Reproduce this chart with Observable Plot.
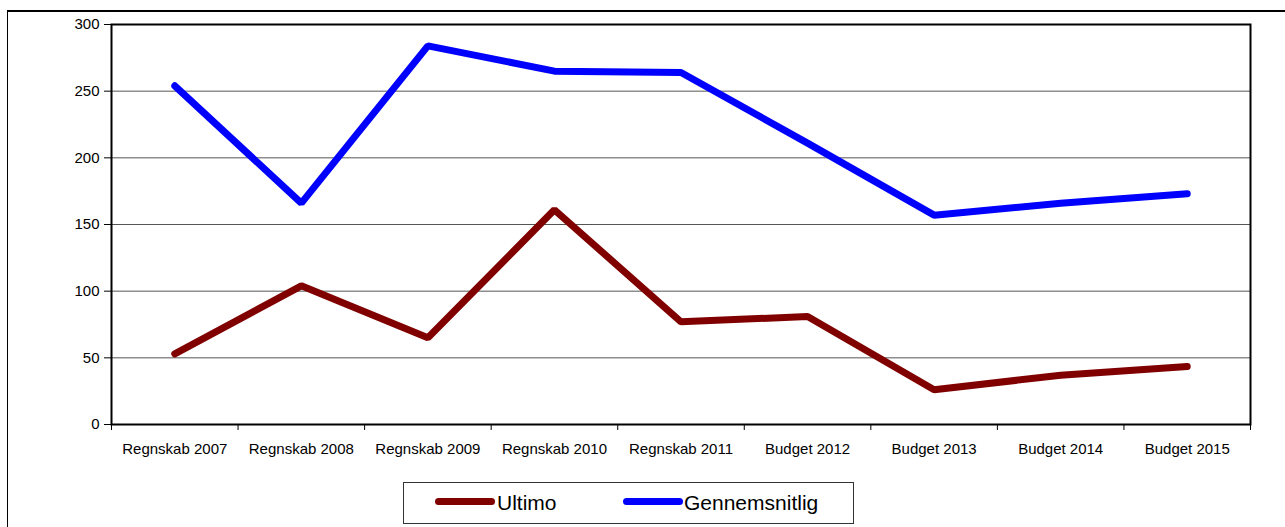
<!DOCTYPE html>
<html>
<head>
<meta charset="utf-8">
<script src="https://cdn.jsdelivr.net/npm/d3@7"></script>
<script src="https://cdn.jsdelivr.net/npm/@observablehq/plot@0.6"></script>
<style>
  html, body { margin: 0; padding: 0; background: #fff; }
  #wrap { position: relative; width: 1285px; height: 527px; overflow: hidden; font-family: "Liberation Sans", Arial, sans-serif; }
  #outer { position: absolute; left: 7px; top: 10px; width: 1300px; height: 530px; border-top: 2px solid #000; border-left: 1px solid #000; box-sizing: border-box; }
  #chart { position: absolute; left: 0; top: 0; }
  #legend { position: absolute; left: 403px; top: 482px; width: 451px; height: 42px; border: 1px solid #333; box-sizing: border-box; background: #fff; }
  .sw { position: absolute; height: 7px; border-radius: 3.5px; top: 15px; }
  .lt { position: absolute; font-size: 21px; top: 8px; color: #000; line-height: 24px; }
</style>
</head>
<body>
<div id="wrap">
  <div id="outer"></div>
  <div id="chart"></div>
  <div id="legend"></div>
</div>
<script>
const categories = ["Regnskab 2007","Regnskab 2008","Regnskab 2009","Regnskab 2010","Regnskab 2011","Budget 2012","Budget 2013","Budget 2014","Budget 2015"];
const ultimo = [53, 104, 65, 161, 77, 81, 26, 37, 43.5];
const gennemsnitlig = [254, 166, 284, 265, 264, 211, 157, 166, 173];
const seriesNames = ["Ultimo", "Gennemsnitlig"];
const seriesColors = ["#800000", "#0000ff"];
const yTicks = [0, 50, 100, 150, 200, 250, 300];
const gridTicks = [50, 100, 150, 200, 250];

const rows = [];
[ultimo, gennemsnitlig].forEach((vals, s) => {
  vals.forEach((v, i) => rows.push({pos: i + 0.5, value: v, series: seriesNames[s]}));
});
const labelPositions = categories.map((c, i) => i + 0.5);
const boundaries = d3.range(categories.length + 1);

const chart = Plot.plot({
  width: 1285,
  height: 470,
  marginLeft: 111,
  marginRight: 35,
  marginTop: 24,
  marginBottom: 46,
  style: {fontFamily: "'Liberation Sans', Arial, sans-serif", fontSize: "15px", background: "transparent", color: "#000"},
  x: {type: "linear", domain: [0, categories.length]},
  y: {domain: [0, 300]},
  color: {domain: seriesNames, range: seriesColors},
  marks: [
    Plot.gridY(gridTicks, {stroke: "#555", strokeOpacity: 1, strokeWidth: 1}),
    Plot.axisY(yTicks, {tickSize: 7, tickPadding: 5, tickFormat: d => String(d), label: null, stroke: "#000"}),
    Plot.axisX(boundaries, {tickSize: 6, tickFormat: () => "", label: null, stroke: "#000"}),
    Plot.axisX(labelPositions, {tickSize: 0, tickPadding: 19, tickFormat: (d, i) => categories[i], label: null}),
    Plot.line(rows, {x: "pos", y: "value", z: "series", stroke: "series", strokeWidth: 7, strokeLinecap: "round", strokeLinejoin: "miter"}),
    Plot.frame({stroke: "#000", strokeWidth: 2})
  ]
});
document.getElementById("chart").appendChild(chart);

const legend = document.getElementById("legend");
const swX = [31, 219];
const txX = [93, 280];
seriesNames.forEach((name, k) => {
  const sw = document.createElement("div");
  sw.className = "sw";
  sw.style.left = swX[k] + "px";
  sw.style.width = "60px";
  sw.style.background = seriesColors[k];
  legend.appendChild(sw);
  const t = document.createElement("div");
  t.className = "lt";
  t.style.left = txX[k] + "px";
  t.textContent = name;
  legend.appendChild(t);
});
</script>
</body>
</html>
